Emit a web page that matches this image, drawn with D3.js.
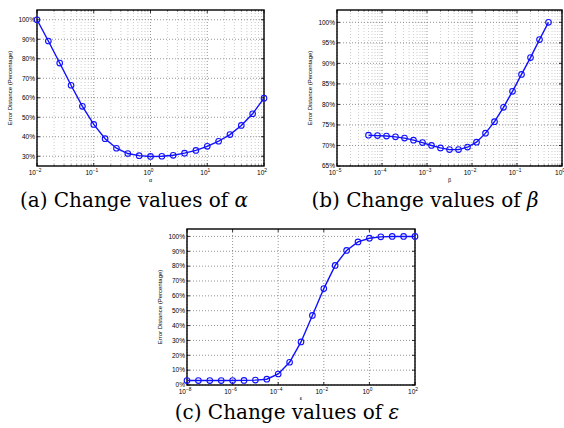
<!DOCTYPE html>
<html>
<head>
<meta charset="utf-8">
<script src="https://cdn.jsdelivr.net/npm/d3@7"></script>
<style>
  body { margin: 0; background: #fff; }
  svg { display: block; }
  .cap { font-family: "DejaVu Serif", "Liberation Serif", "Times New Roman", Times, serif; }
</style>
</head>
<body>
<div id="chart"></div>
<script>
// (a) alpha
const alphaExp = [-2, -1.8, -1.6, -1.4, -1.2, -1, -0.8, -0.6, -0.4, -0.2, 0, 0.2, 0.4, 0.6, 0.8, 1, 1.2, 1.4, 1.6, 1.8, 2];
const alphaErr = [100, 89.1, 77.8, 66.4, 55.6, 46.3, 39, 34.1, 31.4, 30.3, 29.9, 30, 30.5, 31.6, 33, 35.1, 37.7, 41.1, 45.8, 51.8, 59.8];
const alphaYTicks = [30, 40, 50, 60, 70, 80, 90, 100];
const alphaXTicks = [-2, -1, 0, 1, 2];

// (b) beta
const betaExp = [-4.3, -4.1, -3.9, -3.7, -3.5, -3.3, -3.1, -2.9, -2.7, -2.5, -2.3, -2.1, -1.9, -1.7, -1.5, -1.3, -1.1, -0.9, -0.7, -0.5, -0.3];
const betaErr = [72.5, 72.4, 72.3, 72.1, 71.8, 71.3, 70.7, 70.0, 69.4, 69.0, 69.0, 69.6, 70.8, 73.0, 75.8, 79.3, 83.2, 87.3, 91.4, 95.8, 100];
const betaYTicks = [65, 70, 75, 80, 85, 90, 95, 100];
const betaXTicks = [-5, -4, -3, -2, -1, 0];

// (c) epsilon
const epsExp = [-8, -7.5, -7, -6.5, -6, -5.5, -5, -4.5, -4, -3.5, -3, -2.5, -2, -1.5, -1, -0.5, 0, 0.5, 1, 1.5, 2];
const epsErr = [3, 3, 3, 3, 3, 3.1, 3.3, 3.9, 7.4, 15.3, 29, 46.8, 64.9, 80.5, 90.6, 96.3, 98.8, 99.7, 100, 100, 100];
const epsYTicks = [0, 10, 20, 30, 40, 50, 60, 70, 80, 90, 100];
const epsXTicks = [-8, -6, -4, -2, 0, 2];

const svg = d3.select("#chart").append("svg")
  .attr("width", 564).attr("height", 428);

const blue = "#1010ff";
const sans = "'Liberation Sans', Arial, Helvetica, sans-serif";

function panel(o) {
  const g = svg.append("g");
  const x = d3.scaleLog().domain([Math.pow(10, o.xExp[0]), Math.pow(10, o.xExp[1])]).range([o.left, o.right]);
  const y = d3.scaleLinear().domain(o.yDom).range([o.bottom, o.top]);

  // minor grid / ticks on log axis
  const minor = [];
  for (let e = o.xExp[0]; e < o.xExp[1]; e++) {
    for (let k = 2; k <= 9; k++) minor.push(k * Math.pow(10, e));
  }
  if (o.minor) {
    g.selectAll(".mgrid").data(minor).enter().append("line")
      .attr("x1", d => x(d)).attr("x2", d => x(d))
      .attr("y1", o.top).attr("y2", o.bottom)
      .attr("stroke", "#aaa").attr("stroke-width", 0.6)
      .attr("stroke-dasharray", "1,2");
  }
  const major = o.xTicks.map(e => Math.pow(10, e));
  g.selectAll(".xgrid").data(major).enter().append("line")
    .attr("x1", d => x(d)).attr("x2", d => x(d))
    .attr("y1", o.top).attr("y2", o.bottom)
    .attr("stroke", "#666").attr("stroke-width", 0.7)
    .attr("stroke-dasharray", "1,2");
  g.selectAll(".ygrid").data(o.yTicks).enter().append("line")
    .attr("x1", o.left).attr("x2", o.right)
    .attr("y1", d => y(d)).attr("y2", d => y(d))
    .attr("stroke", "#666").attr("stroke-width", 0.7)
    .attr("stroke-dasharray", "1,2");

  // tick marks inside, all four sides
  const tk = 3;
  major.forEach(d => {
    g.append("line").attr("x1", x(d)).attr("x2", x(d)).attr("y1", o.bottom).attr("y2", o.bottom - tk).attr("stroke", "#000").attr("stroke-width", 0.8);
    g.append("line").attr("x1", x(d)).attr("x2", x(d)).attr("y1", o.top).attr("y2", o.top + tk).attr("stroke", "#000").attr("stroke-width", 0.8);
  });
  if (o.minor) {
    minor.forEach(d => {
      g.append("line").attr("x1", x(d)).attr("x2", x(d)).attr("y1", o.bottom).attr("y2", o.bottom - 1.6).attr("stroke", "#000").attr("stroke-width", 0.6);
      g.append("line").attr("x1", x(d)).attr("x2", x(d)).attr("y1", o.top).attr("y2", o.top + 1.6).attr("stroke", "#000").attr("stroke-width", 0.6);
    });
  }
  o.yTicks.forEach(d => {
    g.append("line").attr("x1", o.left).attr("x2", o.left + tk).attr("y1", y(d)).attr("y2", y(d)).attr("stroke", "#000").attr("stroke-width", 0.8);
    g.append("line").attr("x1", o.right).attr("x2", o.right - tk).attr("y1", y(d)).attr("y2", y(d)).attr("stroke", "#000").attr("stroke-width", 0.8);
  });

  // box
  g.append("rect")
    .attr("x", o.left).attr("y", o.top)
    .attr("width", o.right - o.left).attr("height", o.bottom - o.top)
    .attr("fill", "none").attr("stroke", "#000").attr("stroke-width", 1.4);

  // y tick labels
  g.selectAll(".ylab").data(o.yTicks).enter().append("text")
    .attr("x", o.left - 2).attr("y", d => y(d) + 2.3)
    .attr("text-anchor", "end")
    .attr("font-family", sans)
    .attr("font-size", "6.5px")
    .text(d => d + "%");

  // x tick labels 10^e
  o.xTicks.forEach(e => {
    const t = g.append("text")
      .attr("x", x(Math.pow(10, e)) - 2).attr("y", o.bottom + 9)
      .attr("text-anchor", "middle")
      .attr("font-family", sans)
      .attr("font-size", "6.5px");
    t.append("tspan").text("10");
    t.append("tspan").attr("dy", -3).attr("font-size", "4.8px").text(e < 0 ? "\u2212" + (-e) : e);
  });

  // axis labels
  g.append("text")
    .attr("transform", `translate(${o.left - 25},${(o.top + o.bottom) / 2}) rotate(-90)`)
    .attr("text-anchor", "middle")
    .attr("font-family", sans)
    .attr("font-size", "6px")
    .text("Error Distance (Percentage)");
  g.append("text")
    .attr("x", (o.left + o.right) / 2).attr("y", o.bottom + o.symDy)
    .attr("text-anchor", "middle")
    .attr("font-family", sans)
    .attr("font-size", "5.5px")
    .text(o.sym);

  // series
  const pts = o.xs.map((e, i) => [Math.pow(10, e), o.ys[i]]);
  const line = d3.line().x(d => x(d[0])).y(d => y(d[1]));
  g.append("path").datum(pts)
    .attr("d", line).attr("fill", "none")
    .attr("stroke", blue).attr("stroke-width", 1.4);
  g.selectAll(".pt").data(pts).enter().append("circle")
    .attr("cx", d => x(d[0])).attr("cy", d => y(d[1]))
    .attr("r", 2.8).attr("fill", "none")
    .attr("stroke", blue).attr("stroke-width", 1.1);

  // caption
  const c = svg.append("text")
    .attr("class", "cap")
    .attr("x", o.capX).attr("y", o.capY)
    .attr("text-anchor", "middle")
    .style("font-size", "20px");
  c.append("tspan").text(o.cap + "  Change values of ");
  c.append("tspan").style("font-style", "italic").text(o.sym);
}

panel({ left: 37, right: 264, top: 10, bottom: 166, xExp: [-2, 2], yDom: [25, 105],
  yTicks: alphaYTicks, xTicks: alphaXTicks, minor: true, xs: alphaExp, ys: alphaErr,
  sym: "\u03b1", symDy: 16, cap: "(a)", capX: 134, capY: 207 });

panel({ left: 337, right: 562, top: 10, bottom: 166, xExp: [-5, 0], yDom: [65, 103],
  yTicks: betaYTicks, xTicks: betaXTicks, minor: true, xs: betaExp, ys: betaErr,
  sym: "\u03b2", symDy: 16, cap: "(b)", capX: 425, capY: 207 });

panel({ left: 187, right: 415, top: 229, bottom: 385, xExp: [-8, 2], yDom: [0, 105],
  yTicks: epsYTicks, xTicks: epsXTicks, minor: false, xs: epsExp, ys: epsErr,
  sym: "\u03b5", symDy: 15, cap: "(c)", capX: 287, capY: 419 });
</script>
</body>
</html>
